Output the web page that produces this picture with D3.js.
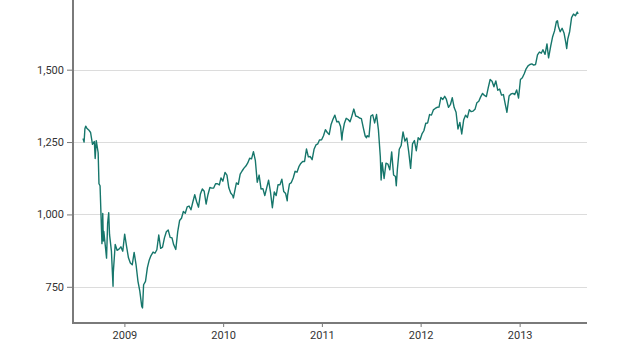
<!DOCTYPE html>
<html>
<head>
<meta charset="utf-8">
<script src="https://cdn.jsdelivr.net/npm/d3@7"></script>
<style>
  html, body { margin: 0; padding: 0; background: #fff; }
  svg { display: block; }
  .tick text { font-family: "Roboto", "Open Sans", sans-serif; font-size: 11px; fill: #333; }
</style>
</head>
<body>
<svg id="chart" width="624" height="349"></svg>
<script>
const dates = [
"2008-08-01","2008-08-05","2008-08-08","2008-08-11","2008-08-15","2008-08-22","2008-08-29","2008-09-05","2008-09-12","2008-09-15","2008-09-19","2008-09-26","2008-09-29","2008-10-03","2008-10-10","2008-10-13","2008-10-15","2008-10-17","2008-10-24","2008-10-27","2008-10-31","2008-11-04","2008-11-07","2008-11-14","2008-11-20","2008-11-21","2008-11-28","2008-12-05","2008-12-12","2008-12-19","2008-12-26",
"2009-01-02","2009-01-09","2009-01-16","2009-01-23","2009-01-30","2009-02-06","2009-02-13","2009-02-20","2009-02-27","2009-03-06","2009-03-09","2009-03-13","2009-03-20","2009-03-27","2009-04-03","2009-04-09","2009-04-17","2009-04-24","2009-05-01","2009-05-08","2009-05-15","2009-05-22","2009-05-29","2009-06-05","2009-06-12","2009-06-19","2009-06-26","2009-07-02","2009-07-10","2009-07-17","2009-07-24","2009-07-31","2009-08-07","2009-08-14","2009-08-21","2009-08-28","2009-09-04","2009-09-11","2009-09-18","2009-09-25","2009-10-02","2009-10-09","2009-10-16","2009-10-23","2009-10-30","2009-11-06","2009-11-13","2009-11-20","2009-11-27","2009-12-04","2009-12-11","2009-12-18","2009-12-24","2009-12-31",
"2010-01-08","2010-01-15","2010-01-22","2010-01-29","2010-02-05","2010-02-08","2010-02-12","2010-02-19","2010-02-26","2010-03-05","2010-03-12","2010-03-19","2010-03-26","2010-04-02","2010-04-09","2010-04-16","2010-04-23","2010-04-30","2010-05-07","2010-05-14","2010-05-21","2010-05-28","2010-06-04","2010-06-11","2010-06-18","2010-06-25","2010-07-02","2010-07-09","2010-07-16","2010-07-23","2010-07-30","2010-08-06","2010-08-13","2010-08-20","2010-08-26","2010-08-27","2010-09-03","2010-09-10","2010-09-17","2010-09-24","2010-10-01","2010-10-08","2010-10-15","2010-10-22","2010-10-29","2010-11-05","2010-11-12","2010-11-19","2010-11-26","2010-12-03","2010-12-10","2010-12-17","2010-12-23","2010-12-31",
"2011-01-07","2011-01-14","2011-01-21","2011-01-28","2011-02-04","2011-02-11","2011-02-18","2011-02-25","2011-03-04","2011-03-11","2011-03-16","2011-03-18","2011-03-25","2011-04-01","2011-04-08","2011-04-15","2011-04-21","2011-04-29","2011-05-06","2011-05-13","2011-05-20","2011-05-27","2011-06-03","2011-06-10","2011-06-15","2011-06-17","2011-06-24","2011-07-01","2011-07-08","2011-07-15","2011-07-22","2011-07-29","2011-08-05","2011-08-08","2011-08-12","2011-08-19","2011-08-26","2011-09-02","2011-09-09","2011-09-16","2011-09-23","2011-09-30","2011-10-03","2011-10-07","2011-10-14","2011-10-21","2011-10-28","2011-11-04","2011-11-11","2011-11-18","2011-11-25","2011-12-02","2011-12-09","2011-12-16","2011-12-23","2011-12-30",
"2012-01-06","2012-01-13","2012-01-20","2012-01-27","2012-02-03","2012-02-10","2012-02-17","2012-02-24","2012-03-02","2012-03-09","2012-03-16","2012-03-23","2012-03-30","2012-04-05","2012-04-13","2012-04-20","2012-04-27","2012-05-04","2012-05-11","2012-05-18","2012-05-25","2012-06-01","2012-06-08","2012-06-15","2012-06-22","2012-06-29","2012-07-06","2012-07-13","2012-07-20","2012-07-27","2012-08-03","2012-08-10","2012-08-17","2012-08-24","2012-08-31","2012-09-07","2012-09-14","2012-09-21","2012-09-28","2012-10-05","2012-10-12","2012-10-19","2012-10-26","2012-11-02","2012-11-09","2012-11-15","2012-11-16","2012-11-23","2012-11-30","2012-12-07","2012-12-14","2012-12-21","2012-12-28",
"2013-01-04","2013-01-11","2013-01-18","2013-01-25","2013-02-01","2013-02-08","2013-02-15","2013-02-22","2013-03-01","2013-03-08","2013-03-15","2013-03-22","2013-03-28","2013-04-05","2013-04-12","2013-04-18","2013-04-26","2013-05-03","2013-05-10","2013-05-17","2013-05-21","2013-05-24","2013-05-31","2013-06-07","2013-06-14","2013-06-21","2013-06-24","2013-06-28","2013-07-05","2013-07-12","2013-07-19","2013-07-26","2013-08-02","2013-08-05"
];
const closes = [
1262,1250,1296,1305,1298,1292,1283,1242,1252,1193,1255,1213,1106,1099,899,1003,908,941,877,849,969,1006,931,873,752,800,896,876,880,888,873,
932,890,850,832,826,869,827,770,735,683,677,757,769,816,843,857,870,866,878,929,883,887,919,940,946,921,919,896,879,940,979,987,1010,1004,1026,1029,1016,1043,1068,1044,1025,1071,1088,1080,1036,1069,1093,1091,1091,1106,1106,1102,1126,1115,
1145,1136,1092,1074,1066,1057,1076,1109,1104,1139,1150,1160,1167,1178,1194,1192,1217,1187,1111,1136,1088,1089,1065,1092,1118,1077,1023,1078,1065,1103,1102,1122,1079,1072,1047,1065,1105,1110,1126,1149,1146,1165,1176,1183,1183,1226,1199,1200,1189,1225,1240,1244,1257,1258,
1272,1293,1283,1276,1311,1329,1343,1320,1321,1304,1257,1279,1314,1332,1328,1320,1337,1364,1340,1338,1333,1331,1300,1271,1265,1272,1268,1340,1344,1316,1345,1292,1199,1119,1179,1124,1177,1174,1154,1216,1136,1131,1099,1155,1225,1238,1285,1253,1264,1216,1159,1244,1255,1220,1265,1258,
1278,1289,1315,1316,1345,1343,1361,1366,1370,1371,1404,1397,1408,1398,1370,1379,1403,1369,1353,1295,1318,1278,1326,1343,1335,1362,1355,1357,1363,1386,1391,1406,1418,1411,1407,1438,1466,1460,1441,1461,1429,1433,1412,1414,1380,1353,1360,1409,1416,1418,1414,1430,1402,
1466,1472,1486,1503,1513,1518,1520,1516,1518,1551,1561,1557,1569,1553,1589,1541,1582,1614,1634,1667,1669,1650,1631,1643,1627,1592,1573,1606,1632,1680,1692,1686,1699,1692
];
const yTicks = [750, 1000, 1250, 1500];
const xTickYears = [2009, 2010, 2011, 2012, 2013];

const svg = d3.select("#chart");
const left = 73, right = 587, bottom = 323;
const parse = d3.timeParse("%Y-%m-%d");
const data = dates.map((d, i) => ({ date: parse(d), value: closes[i] }));

const x = d3.scaleTime()
  .domain([parse("2008-06-25"), parse("2013-09-07")])
  .range([left, right]);
const y = d3.scaleLinear().domain([625, 1750]).range([bottom, -2.7]);

// gridlines
svg.append("g")
  .selectAll("line")
  .data(yTicks)
  .join("line")
  .attr("x1", left).attr("x2", right)
  .attr("y1", d => Math.round(y(d)) + 0.5).attr("y2", d => Math.round(y(d)) + 0.5)
  .attr("stroke", "#dcdcdc").attr("stroke-width", 1);

// line
svg.append("path")
  .datum(data)
  .attr("fill", "none")
  .attr("stroke", "#16766b")
  .attr("stroke-width", 1.4)
  .attr("stroke-linejoin", "round")
  .attr("d", d3.line().x(d => x(d.date)).y(d => y(d.value)));

// y axis
const yAxis = svg.append("g")
  .attr("transform", `translate(${left},0)`)
  .call(d3.axisLeft(y).tickValues(yTicks).tickFormat(d3.format(",")).tickSize(6).tickSizeOuter(0));
yAxis.select(".domain").remove();
yAxis.selectAll(".tick line").attr("stroke", "#777").attr("stroke-width", 1);
yAxis.selectAll(".tick text").attr("x", -9);
svg.append("line")
  .attr("x1", left).attr("x2", left).attr("y1", y.range()[1]).attr("y2", bottom + 1)
  .attr("stroke", "#7a7a7a").attr("stroke-width", 2);

// x axis
const xAxis = svg.append("g")
  .attr("transform", `translate(0,${bottom})`)
  .call(d3.axisBottom(x).tickValues(xTickYears.map(yr => new Date(yr, 0, 1))).tickFormat(d3.timeFormat("%Y")).tickSize(4).tickSizeOuter(0));
xAxis.select(".domain").remove();
xAxis.selectAll(".tick line").attr("stroke", "#777").attr("stroke-width", 1);
xAxis.selectAll(".tick text").attr("dy", "0.95em").attr("y", 6);
svg.append("line")
  .attr("x1", left - 1).attr("x2", right).attr("y1", bottom).attr("y2", bottom)
  .attr("stroke", "#7a7a7a").attr("stroke-width", 2);
</script>
</body>
</html>
